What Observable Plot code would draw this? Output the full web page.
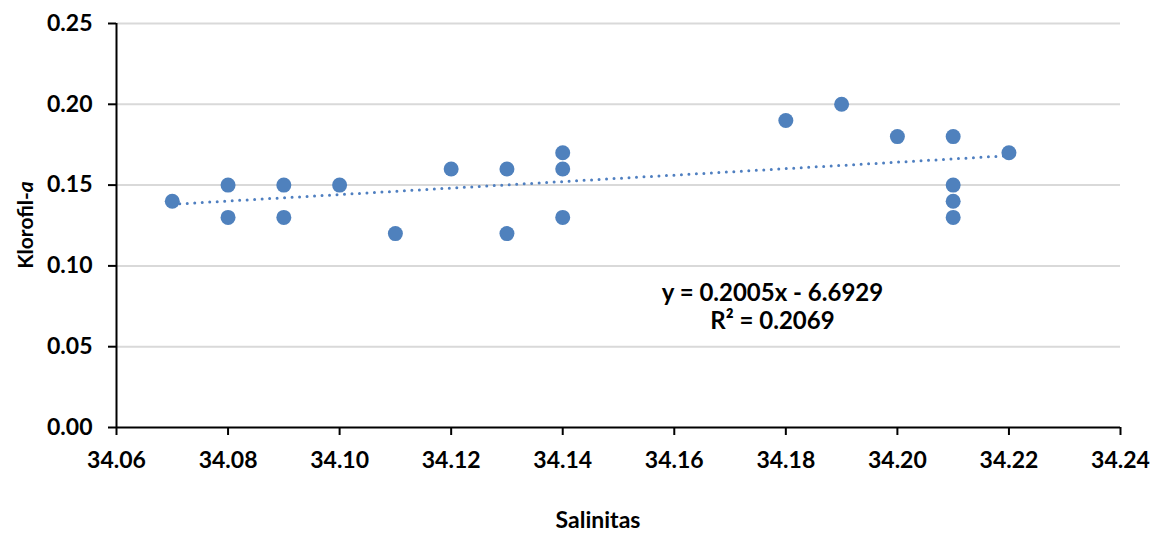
<!DOCTYPE html>
<html>
<head>
<meta charset="utf-8">
<script src="https://cdn.jsdelivr.net/npm/d3@7"></script>
<script src="https://cdn.jsdelivr.net/npm/@observablehq/plot@0.6"></script>
<style>
  html, body { margin: 0; padding: 0; background: #fff; }
  #chart svg { display: block; }
</style>
</head>
<body>
<div id="chart"></div>
<script>
const salinitas = [34.07, 34.08, 34.08, 34.09, 34.09, 34.10, 34.11, 34.12, 34.13, 34.13, 34.14, 34.14, 34.14, 34.18, 34.19, 34.20, 34.21, 34.21, 34.21, 34.21, 34.22];
const klorofil  = [0.14, 0.15, 0.13, 0.15, 0.13, 0.15, 0.12, 0.16, 0.16, 0.12, 0.17, 0.16, 0.13, 0.19, 0.20, 0.18, 0.18, 0.15, 0.14, 0.13, 0.17];
const xTicks = [34.06, 34.08, 34.10, 34.12, 34.14, 34.16, 34.18, 34.20, 34.22, 34.24];
const yTicks = [0.00, 0.05, 0.10, 0.15, 0.20, 0.25];
const slope = 0.2005, intercept = -6.6929;
const trendX = [34.07, 34.22];
const equationText = "y = 0.2005x - 6.6929\nR² = 0.2069";
const equationPos = [34.1776, 0.0749];

const points = salinitas.map((s, i) => ({x: s, y: klorofil[i]}));
const trend = trendX.map(x => ({x, y: slope * x + intercept}));

const font = "Lato, 'Open Sans', sans-serif";
const plot = Plot.plot({
  width: 1158,
  height: 533,
  marginLeft: 116,
  marginRight: 38,
  marginTop: 23,
  marginBottom: 106,
  style: {fontFamily: font, fontSize: "23px", fontWeight: "bold", color: "#000", background: "#fff"},
  x: {domain: [34.06, 34.24], ticks: xTicks, tickFormat: d3.format(".2f"), label: null},
  y: {domain: [0, 0.25], ticks: yTicks, tickFormat: d3.format(".2f"), label: null},
  marks: [
    Plot.ruleY(yTicks.filter(d => d > 0), {stroke: "#d9d9d9", strokeWidth: 2}),
    Plot.axisX({ticks: xTicks, tickFormat: d3.format(".2f"), tickSize: 8, tickPadding: 16, stroke: "#000", strokeWidth: 2, fontSize: 23, fontWeight: "bold", label: null}),
    Plot.axisY({ticks: yTicks, tickFormat: d3.format(".2f"), tickSize: 8, tickPadding: 16, stroke: "#000", strokeWidth: 2, fontSize: 23, fontWeight: "bold", label: null}),
    Plot.ruleY([0], {stroke: "#000", strokeWidth: 2}),
    Plot.ruleX([34.06], {stroke: "#000", strokeWidth: 2}),
    Plot.line(trend, {x: "x", y: "y", stroke: "#4f7fc0", strokeWidth: 3, strokeDasharray: "0 7.5", strokeLinecap: "round"}),
    Plot.dot(points, {x: "x", y: "y", r: 7.5, fill: "#4f81bd", stroke: "none"}),
    Plot.text([equationPos], {x: d => d[0], y: d => d[1], text: () => equationText, fontSize: 24, fontWeight: "bold", lineHeight: 1.17, textAnchor: "middle", fill: "#000"})
  ]
});
document.getElementById("chart").appendChild(plot);

const svg = d3.select(plot);
// x-axis label
svg.append("text")
  .attr("x", 598).attr("y", 528)
  .attr("text-anchor", "middle")
  .attr("font-family", font).attr("font-size", 23).attr("font-weight", "bold")
  .text("Salinitas");
// y-axis label with italic a
const yl = svg.append("text")
  .attr("transform", "translate(33,225) rotate(-90)")
  .attr("text-anchor", "middle")
  .attr("font-family", font).attr("font-size", 21).attr("font-weight", "bold");
yl.append("tspan").text("Klorofil-");
yl.append("tspan").attr("font-style", "italic").text("a");
</script>
</body>
</html>
